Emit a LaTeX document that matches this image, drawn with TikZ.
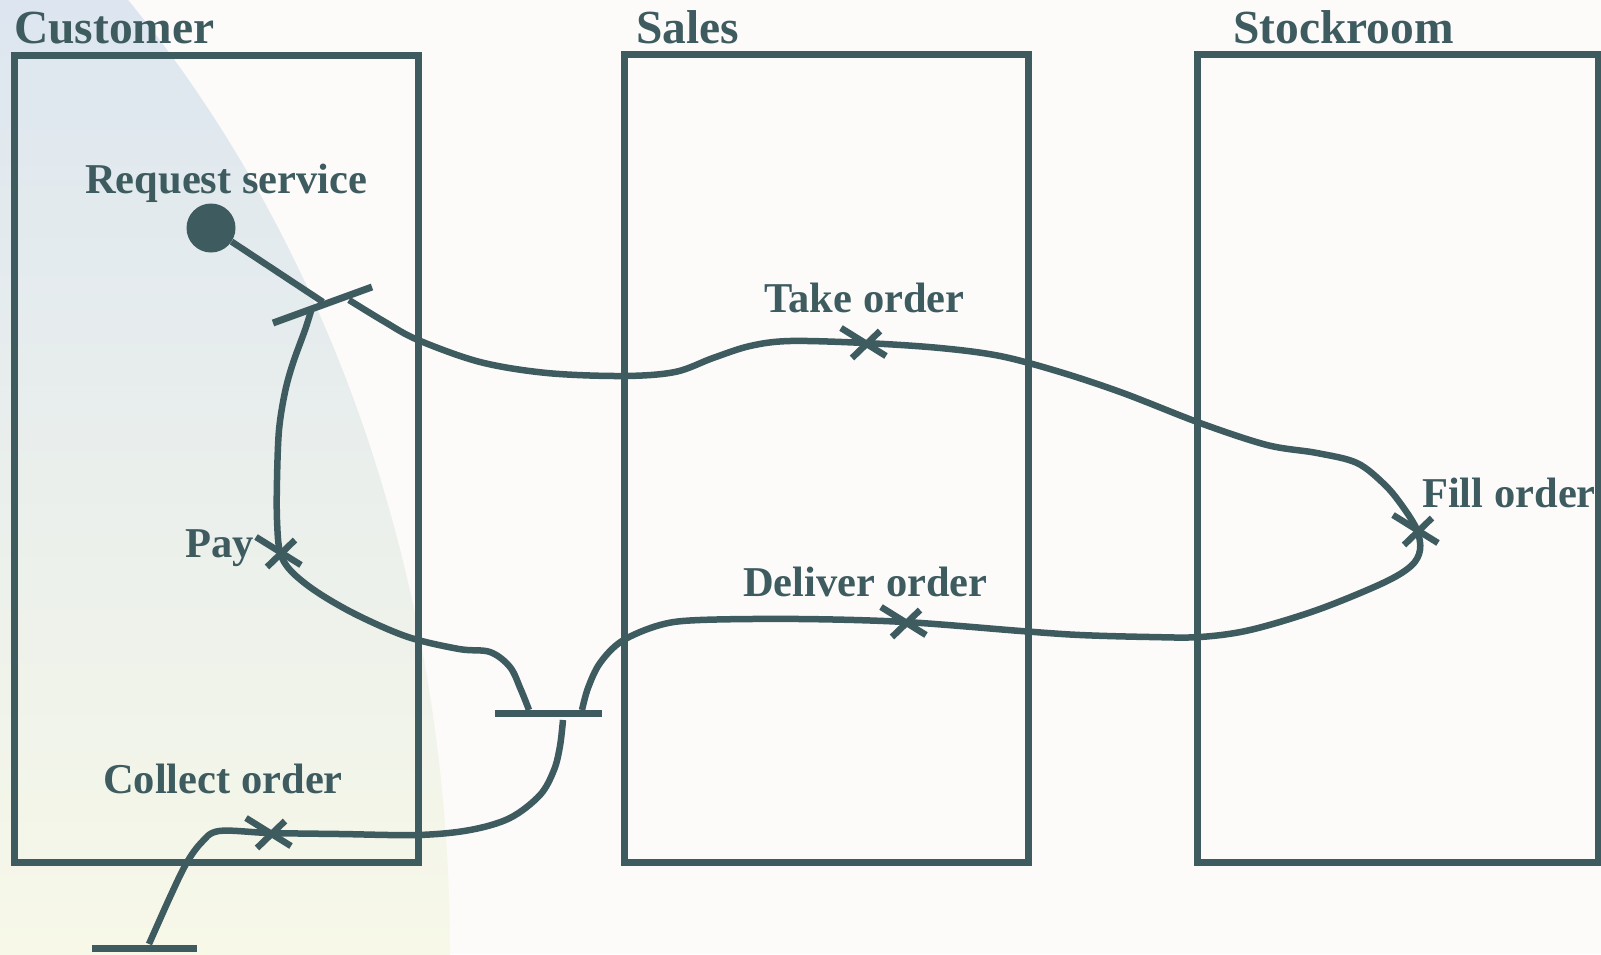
\documentclass[tikz,border=0pt]{standalone}
\usepackage{fontspec}
\setmainfont{Liberation Serif}
\definecolor{inkc}{RGB}{62,92,96}
\definecolor{paper}{RGB}{252,251,249}
\definecolor{hazetop}{RGB}{221,230,240}
\definecolor{hazebot}{RGB}{247,248,232}
\begin{document}
\begin{tikzpicture}[x=1pt,y=-1pt,
  bar/.style={draw=inkc, line width=7pt},
  flow/.style={draw=inkc, line width=6.5pt},
  lane/.style={draw=inkc, line width=7pt, rectangle, inner sep=0pt},
  lanetitle/.style={text=inkc, font=\fontsize{47.5}{57}\selectfont\bfseries, inner sep=0pt, anchor=base west},
  actlabel/.style={text=inkc, font=\fontsize{42.5}{51}\selectfont\bfseries, inner sep=0pt, anchor=base west},
  xmark/.pic={\draw[flow] (-24,-15) -- (21,13); \draw[flow] (15,-12) -- (-13,15);},
]
% page and background
\useasboundingbox (0,0) rectangle (1601,954);
\fill[paper] (0,0) rectangle (1601,954);
% soft tinted area on the left
\begin{scope}
  \clip (0,0) rectangle (1601,954);
  \clip (-600,954) ellipse [x radius=1050pt, y radius=1324pt];
  \shade[top color=hazetop, bottom color=hazebot] (0,0) rectangle (470,954);
\end{scope}

% swimlanes
\node[lane, minimum width=404pt, minimum height=807pt] (customer) at (216,458.5) {};
\node[lane, minimum width=404pt, minimum height=808pt] (sales) at (826,458) {};
\node[lane, minimum width=401pt, minimum height=808pt] (stockroom) at (1397.5,458) {};
\node[lanetitle] (customer-t) at (14,43) {Customer};
\node[lanetitle] (sales-t) at (636,43) {Sales};
\node[lanetitle] (stockroom-t) at (1233,43) {Stockroom};

% activity labels
\node[actlabel] (request-t) at (85,193) {Request service};
\node[actlabel] (take-t) at (764,312) {Take order};
\node[actlabel] (fill-t) at (1422,507) {Fill order};
\node[actlabel] (pay-t) at (185,557) {Pay};
\node[actlabel] (deliver-t) at (743,596) {Deliver order};
\node[actlabel] (collect-t) at (103,793) {Collect order};

% activity points
\coordinate (take) at (865,343);
\coordinate (fill) at (1417,530);
\coordinate (deliver) at (905,622);
\coordinate (pay) at (280,552);
\coordinate (collect) at (270,833);

% start dot
\node[circle, fill=inkc, minimum size=49pt, inner sep=0pt] (start) at (211,228) {};

% fork bar
\coordinate (fork-a) at (273,323);
\coordinate (fork-b) at (372,287);
\coordinate (fork-in) at (323,302);
\coordinate (fork-r) at (349,300);
\coordinate (fork-d) at (311,311);
% join bar
\coordinate (join-a) at (495,713);
\coordinate (join-b) at (602,713);
\coordinate (join-l) at (529,710);
\coordinate (join-r) at (582,710);
\coordinate (join-d) at (563,720);
% end bar
\coordinate (end-a) at (92,948);
\coordinate (end-b) at (197,948);
\coordinate (end-u) at (149,944);

\draw[bar] (fork-a) -- (fork-b);
\draw[bar] (join-a) -- (join-b);
\draw[bar] (end-a) -- (end-b);

\draw[flow] (start) -- (fork-in);

% order loop: take, fill, deliver
\draw[flow] plot[smooth, tension=0.55] coordinates {
  (fork-r) (385,322) (418,340) (480,362) (547,373) (623,376) (675,372)
  (713,358) (750,346) (790,341) (take) (940,348) (1000,356) (1060,372)
  (1123,393) (1200,423) (1267,445) (1317,453) (1357,463) (1385,485)
  (1403,507) (fill) (1420,550) (1411,566) (1383,583) (1317,610)
  (1250,630) (1200,637) (1150,637) (1080,635) (1021,631) (deliver)
  (800,619) (700,620) (660,625) (622,641) (600,663) (588,688) (join-r)};

% payment branch
\draw[flow] plot[smooth, tension=0.55] coordinates {
  (fork-d) (305,330) (293,363) (285,392) (279,430) (277,480) (277,520)
  (pay) (291,571) (317,592) (357,615) (408,637) (459,649) (490,652)
  (510,667) (521,690) (join-l)};

% collection branch
\draw[flow] plot[smooth, tension=0.55] coordinates {
  (join-d) (560,746) (554,770) (540,795) (510,818) (470,830) (418,835)
  (340,834) (collect) (219,831) (201,843) (186,864) (170,897) (end-u)};

% activity marks
\foreach \p in {take,fill,deliver,pay,collect}
  \pic at (\p) {xmark};
\end{tikzpicture}
\end{document}
